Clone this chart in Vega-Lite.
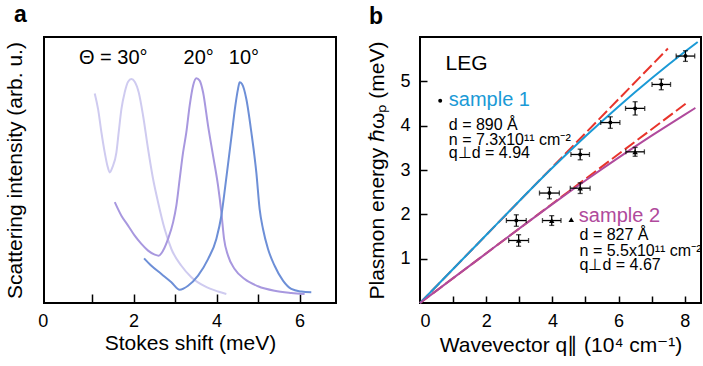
{
  "$schema": "https://vega.github.io/schema/vega-lite/v6.json",
  "padding": {"left": 2, "top": 3, "right": 0, "bottom": 0},
  "background": "white",
  "datasets": {
    "spectra": [
      {"angle": "30°", "x": 1.063, "i": 0.788},
      {"angle": "30°", "x": 1.144, "i": 0.729},
      {"angle": "30°", "x": 1.224, "i": 0.642},
      {"angle": "30°", "x": 1.304, "i": 0.566},
      {"angle": "30°", "x": 1.369, "i": 0.516},
      {"angle": "30°", "x": 1.424, "i": 0.491},
      {"angle": "30°", "x": 1.489, "i": 0.510},
      {"angle": "30°", "x": 1.586, "i": 0.566},
      {"angle": "30°", "x": 1.641, "i": 0.642},
      {"angle": "30°", "x": 1.706, "i": 0.729},
      {"angle": "30°", "x": 1.786, "i": 0.792},
      {"angle": "30°", "x": 1.867, "i": 0.832},
      {"angle": "30°", "x": 1.947, "i": 0.842},
      {"angle": "30°", "x": 2.027, "i": 0.832},
      {"angle": "30°", "x": 2.123, "i": 0.792},
      {"angle": "30°", "x": 2.229, "i": 0.704},
      {"angle": "30°", "x": 2.349, "i": 0.579},
      {"angle": "30°", "x": 2.470, "i": 0.466},
      {"angle": "30°", "x": 2.590, "i": 0.379},
      {"angle": "30°", "x": 2.749, "i": 0.278},
      {"angle": "30°", "x": 2.911, "i": 0.203},
      {"angle": "30°", "x": 3.152, "i": 0.140},
      {"angle": "30°", "x": 3.393, "i": 0.097},
      {"angle": "30°", "x": 3.713, "i": 0.063},
      {"angle": "30°", "x": 4.036, "i": 0.043},
      {"angle": "30°", "x": 4.236, "i": 0.034},
      {"angle": "20°", "x": 1.546, "i": 0.379},
      {"angle": "20°", "x": 1.706, "i": 0.328},
      {"angle": "20°", "x": 1.867, "i": 0.291},
      {"angle": "20°", "x": 2.027, "i": 0.253},
      {"angle": "20°", "x": 2.188, "i": 0.222},
      {"angle": "20°", "x": 2.349, "i": 0.197},
      {"angle": "20°", "x": 2.509, "i": 0.182},
      {"angle": "20°", "x": 2.605, "i": 0.178},
      {"angle": "20°", "x": 2.711, "i": 0.197},
      {"angle": "20°", "x": 2.831, "i": 0.241},
      {"angle": "20°", "x": 2.952, "i": 0.303},
      {"angle": "20°", "x": 3.031, "i": 0.366},
      {"angle": "20°", "x": 3.111, "i": 0.466},
      {"angle": "20°", "x": 3.193, "i": 0.566},
      {"angle": "20°", "x": 3.272, "i": 0.642},
      {"angle": "20°", "x": 3.352, "i": 0.742},
      {"angle": "20°", "x": 3.434, "i": 0.817},
      {"angle": "20°", "x": 3.513, "i": 0.845},
      {"angle": "20°", "x": 3.593, "i": 0.836},
      {"angle": "20°", "x": 3.675, "i": 0.792},
      {"angle": "20°", "x": 3.795, "i": 0.667},
      {"angle": "20°", "x": 3.916, "i": 0.554},
      {"angle": "20°", "x": 4.036, "i": 0.441},
      {"angle": "20°", "x": 4.116, "i": 0.341},
      {"angle": "20°", "x": 4.181, "i": 0.241},
      {"angle": "20°", "x": 4.277, "i": 0.178},
      {"angle": "20°", "x": 4.436, "i": 0.128},
      {"angle": "20°", "x": 4.677, "i": 0.090},
      {"angle": "20°", "x": 5.000, "i": 0.063},
      {"angle": "20°", "x": 5.400, "i": 0.046},
      {"angle": "20°", "x": 5.802, "i": 0.038},
      {"angle": "20°", "x": 6.123, "i": 0.034},
      {"angle": "10°", "x": 2.253, "i": 0.168},
      {"angle": "10°", "x": 2.429, "i": 0.140},
      {"angle": "10°", "x": 2.670, "i": 0.109},
      {"angle": "10°", "x": 2.911, "i": 0.078},
      {"angle": "10°", "x": 3.111, "i": 0.050},
      {"angle": "10°", "x": 3.313, "i": 0.065},
      {"angle": "10°", "x": 3.554, "i": 0.103},
      {"angle": "10°", "x": 3.795, "i": 0.165},
      {"angle": "10°", "x": 3.995, "i": 0.241},
      {"angle": "10°", "x": 4.116, "i": 0.328},
      {"angle": "10°", "x": 4.212, "i": 0.441},
      {"angle": "10°", "x": 4.292, "i": 0.541},
      {"angle": "10°", "x": 4.373, "i": 0.642},
      {"angle": "10°", "x": 4.453, "i": 0.742},
      {"angle": "10°", "x": 4.518, "i": 0.805},
      {"angle": "10°", "x": 4.557, "i": 0.830},
      {"angle": "10°", "x": 4.614, "i": 0.823},
      {"angle": "10°", "x": 4.718, "i": 0.767},
      {"angle": "10°", "x": 4.839, "i": 0.642},
      {"angle": "10°", "x": 4.959, "i": 0.491},
      {"angle": "10°", "x": 5.039, "i": 0.353},
      {"angle": "10°", "x": 5.120, "i": 0.278},
      {"angle": "10°", "x": 5.241, "i": 0.203},
      {"angle": "10°", "x": 5.400, "i": 0.140},
      {"angle": "10°", "x": 5.602, "i": 0.084},
      {"angle": "10°", "x": 5.802, "i": 0.053},
      {"angle": "10°", "x": 6.043, "i": 0.043},
      {"angle": "10°", "x": 6.284, "i": 0.040}
    ],
    "angleLabels": [
      {"x": 1.51, "i": 0.90, "t": "Θ = 30°"},
      {"x": 3.57, "i": 0.90, "t": "20°"},
      {"x": 4.66, "i": 0.90, "t": "10°"}
    ],
    "models": [
      {"curve": "red1", "q": 0, "e": 0},
      {"curve": "red1", "q": 7.49, "e": 5.74},
      {"curve": "red2", "q": 0, "e": 0},
      {"curve": "red2", "q": 8.09, "e": 4.53},
      {"curve": "blue", "q": 0, "e": 0},
      {"curve": "blue", "q": 1, "e": 0.767},
      {"curve": "blue", "q": 2, "e": 1.534},
      {"curve": "blue", "q": 3, "e": 2.301},
      {"curve": "blue", "q": 4, "e": 3.049},
      {"curve": "blue", "q": 5, "e": 3.760},
      {"curve": "blue", "q": 6, "e": 4.433},
      {"curve": "blue", "q": 7, "e": 5.068},
      {"curve": "blue", "q": 8, "e": 5.666},
      {"curve": "blue", "q": 8.39, "e": 5.889},
      {"curve": "magenta", "q": 0, "e": 0},
      {"curve": "magenta", "q": 1, "e": 0.56},
      {"curve": "magenta", "q": 2, "e": 1.12},
      {"curve": "magenta", "q": 3, "e": 1.68},
      {"curve": "magenta", "q": 4, "e": 2.231},
      {"curve": "magenta", "q": 5, "e": 2.763},
      {"curve": "magenta", "q": 6, "e": 3.278},
      {"curve": "magenta", "q": 7, "e": 3.774},
      {"curve": "magenta", "q": 8, "e": 4.251},
      {"curve": "magenta", "q": 8.32, "e": 4.40}
    ],
    "points": [
      {"sample": "1", "q": 2.91, "e": 1.86, "qlo": 2.61, "qhi": 3.21, "elo": 1.73, "ehi": 1.99},
      {"sample": "1", "q": 3.91, "e": 2.48, "qlo": 3.61, "qhi": 4.21, "elo": 2.35, "ehi": 2.61},
      {"sample": "1", "q": 4.84, "e": 3.35, "qlo": 4.56, "qhi": 5.12, "elo": 3.23, "ehi": 3.47},
      {"sample": "1", "q": 5.75, "e": 4.07, "qlo": 5.46, "qhi": 6.04, "elo": 3.94, "ehi": 4.20},
      {"sample": "1", "q": 6.50, "e": 4.39, "qlo": 6.21, "qhi": 6.79, "elo": 4.24, "ehi": 4.54},
      {"sample": "1", "q": 7.29, "e": 4.93, "qlo": 7.01, "qhi": 7.57, "elo": 4.81, "ehi": 5.05},
      {"sample": "1", "q": 8.02, "e": 5.57, "qlo": 7.74, "qhi": 8.30, "elo": 5.45, "ehi": 5.69},
      {"sample": "2", "q": 2.98, "e": 1.41, "qlo": 2.68, "qhi": 3.28, "elo": 1.28, "ehi": 1.54},
      {"sample": "2", "q": 3.98, "e": 1.86, "qlo": 3.70, "qhi": 4.26, "elo": 1.75, "ehi": 1.97},
      {"sample": "2", "q": 4.84, "e": 2.59, "qlo": 4.54, "qhi": 5.14, "elo": 2.47, "ehi": 2.71},
      {"sample": "2", "q": 6.50, "e": 3.41, "qlo": 6.22, "qhi": 6.78, "elo": 3.31, "ehi": 3.51}
    ],
    "markers": [
      {"sample": "1", "q": 0.61, "e": 4.56},
      {"sample": "2", "q": 4.57, "e": 1.88}
    ],
    "notes": [
      {"kind": "head", "q": 0.77, "e": 5.25, "t": "LEG"},
      {"kind": "s1", "q": 0.87, "e": 4.44, "t": "sample 1"},
      {"kind": "info", "q": 0.87, "e": 3.90, "t": "d = 890 Å"},
      {"kind": "info", "q": 0.87, "e": 3.56, "t": "n = 7.3x10¹¹ cm⁻²"},
      {"kind": "info", "q": 0.87, "e": 3.26, "t": "q⊥d = 4.94"},
      {"kind": "s2", "q": 4.80, "e": 1.83, "t": "sample 2"},
      {"kind": "info", "q": 4.82, "e": 1.41, "t": "d = 827 Å"},
      {"kind": "info", "q": 4.82, "e": 1.07, "t": "n = 5.5x10¹¹ cm⁻²"},
      {"kind": "info", "q": 4.82, "e": 0.74, "t": "q⊥d = 4.67"}
    ]
  },
  "hconcat": [
    {
      "width": 292,
      "height": 266,
      "title": {"text": "a", "anchor": "start", "frame": "group", "dx": -30, "offset": -8, "baseline": "alphabetic", "fontSize": 23, "fontWeight": "bold"},
      "layer": [
        {
          "data": {"name": "spectra"},
          "mark": {"type": "line", "strokeWidth": 2, "interpolate": "monotone"},
          "encoding": {
            "x": {"field": "x", "type": "quantitative", "scale": {"domain": [-0.16, 6.88], "nice": false, "zero": false},
              "axis": {"title": "Stokes shift (meV)", "values": [0, 1, 2, 3, 4, 5, 6], "labelExpr": "datum.value % 2 == 0 ? datum.label : ''", "tickSize": -9, "labelPadding": 18, "tickOpacity": {"condition": {"test": "datum.value == 0", "value": 0}, "value": 1}, "labelOffset": {"condition": {"test": "datum.value == 0", "value": -8}, "value": 0}, "titlePadding": 2}},
            "y": {"field": "i", "type": "quantitative", "scale": {"domain": [0, 1], "nice": false},
              "axis": {"title": "Scattering intensity (arb. u.)", "ticks": false, "labels": false, "titlePadding": 19}},
            "color": {"field": "angle", "type": "nominal", "scale": {"domain": ["30°", "20°", "10°"], "range": ["#cfcbf0", "#a898df", "#6d8fd7"]}, "legend": null}
          }
        },
        {
          "data": {"name": "angleLabels"},
          "mark": {"type": "text", "fontSize": 20, "align": "center", "baseline": "alphabetic", "color": "black"},
          "encoding": {
            "x": {"field": "x", "type": "quantitative"},
            "y": {"field": "i", "type": "quantitative"},
            "text": {"field": "t"}
          }
        }
      ]
    },
    {
      "width": 281,
      "height": 266,
      "title": {"text": "b", "anchor": "start", "frame": "group", "dx": -51, "offset": -10, "baseline": "alphabetic", "fontSize": 23, "fontWeight": "bold"},
      "encoding": {
        "x": {"type": "quantitative", "scale": {"domain": [0, 8.49], "nice": false},
          "axis": {"title": "Wavevector q∥ (10⁴ cm⁻¹)", "values": [0, 1, 2, 3, 4, 5, 6, 7, 8], "labelExpr": "datum.value % 2 == 0 ? datum.label : ''", "tickSize": -7, "labelPadding": 16, "tickOpacity": {"condition": {"test": "datum.value == 0", "value": 0}, "value": 1}, "titlePadding": 4}},
        "y": {"type": "quantitative", "scale": {"domain": [0, 6], "nice": false},
          "axis": {"title": "Plasmon energy ℏωₚ (meV)", "values": [1, 2, 3, 4, 5], "tickSize": -7, "labelPadding": 17, "titlePadding": 12}}
      },
      "layer": [
        {
          "data": {"name": "models"},
          "transform": [{"filter": "datum.curve == 'red1' || datum.curve == 'red2'"}],
          "mark": {"type": "line", "color": "#e8342b", "strokeWidth": 2, "strokeDash": [12, 4]},
          "encoding": {
            "x": {"field": "q", "type": "quantitative"},
            "y": {"field": "e", "type": "quantitative"},
            "detail": {"field": "curve"}
          }
        },
        {
          "data": {"name": "models"},
          "transform": [{"filter": "datum.curve == 'blue' || datum.curve == 'magenta'"}],
          "mark": {"type": "line", "strokeWidth": 2, "interpolate": "monotone"},
          "encoding": {
            "x": {"field": "q", "type": "quantitative"},
            "y": {"field": "e", "type": "quantitative"},
            "color": {"field": "curve", "type": "nominal", "scale": {"domain": ["blue", "magenta"], "range": ["#1b9ad6", "#b04a9c"]}, "legend": null}
          }
        },
        {
          "data": {"name": "points"},
          "mark": {"type": "errorbar", "ticks": {"size": 5}, "color": "black", "thickness": 1.3},
          "encoding": {
            "x": {"field": "qlo", "type": "quantitative"},
            "x2": {"field": "qhi"},
            "y": {"field": "e", "type": "quantitative"}
          }
        },
        {
          "data": {"name": "points"},
          "mark": {"type": "errorbar", "ticks": {"size": 5}, "color": "black", "thickness": 1.3},
          "encoding": {
            "y": {"field": "elo", "type": "quantitative"},
            "y2": {"field": "ehi"},
            "x": {"field": "q", "type": "quantitative"}
          }
        },
        {
          "data": {"name": "points"},
          "mark": {"type": "point", "filled": true, "color": "black", "opacity": 1},
          "encoding": {
            "x": {"field": "q", "type": "quantitative"},
            "y": {"field": "e", "type": "quantitative"},
            "shape": {"field": "sample", "type": "nominal", "scale": {"domain": ["1", "2"], "range": ["circle", "triangle-up"]}, "legend": null},
            "size": {"field": "sample", "type": "nominal", "scale": {"domain": ["1", "2"], "range": [16, 30]}, "legend": null}
          }
        },
        {
          "data": {"name": "markers"},
          "mark": {"type": "point", "filled": true, "color": "black", "opacity": 1},
          "encoding": {
            "x": {"field": "q", "type": "quantitative"},
            "y": {"field": "e", "type": "quantitative"},
            "shape": {"field": "sample", "type": "nominal", "scale": {"domain": ["1", "2"], "range": ["circle", "triangle-up"]}, "legend": null},
            "size": {"field": "sample", "type": "nominal", "scale": {"domain": ["1", "2"], "range": [16, 30]}, "legend": null}
          }
        },
        {
          "data": {"name": "notes"},
          "transform": [{"filter": "datum.kind == 'head'"}],
          "mark": {"type": "text", "fontSize": 21, "align": "left", "baseline": "alphabetic", "color": "black"},
          "encoding": {
            "x": {"field": "q", "type": "quantitative"},
            "y": {"field": "e", "type": "quantitative"},
            "text": {"field": "t"}
          }
        },
        {
          "data": {"name": "notes"},
          "transform": [{"filter": "datum.kind == 's1' || datum.kind == 's2'"}],
          "mark": {"type": "text", "fontSize": 20, "align": "left", "baseline": "alphabetic"},
          "encoding": {
            "x": {"field": "q", "type": "quantitative"},
            "y": {"field": "e", "type": "quantitative"},
            "text": {"field": "t"},
            "color": {"field": "kind", "type": "nominal", "scale": {"domain": ["s1", "s2"], "range": ["#1b9ad6", "#b04a9c"]}, "legend": null}
          }
        },
        {
          "data": {"name": "notes"},
          "transform": [{"filter": "datum.kind == 'info'"}],
          "mark": {"type": "text", "fontSize": 16, "align": "left", "baseline": "alphabetic", "color": "black"},
          "encoding": {
            "x": {"field": "q", "type": "quantitative"},
            "y": {"field": "e", "type": "quantitative"},
            "text": {"field": "t"}
          }
        }
      ],
      "resolve": {"scale": {"color": "independent"}}
    }
  ],
  "spacing": 84,
  "bounds": "flush",
  "config": {
    "font": "Liberation Sans",
    "view": {"stroke": "black", "strokeWidth": 2},
    "axis": {"grid": false, "domain": false, "labelFontSize": 18, "titleFontSize": 21, "titleFontWeight": "normal", "labelColor": "black", "titleColor": "black", "tickColor": "black", "tickWidth": 1.5},
    "title": {"color": "black"}
  }
}
